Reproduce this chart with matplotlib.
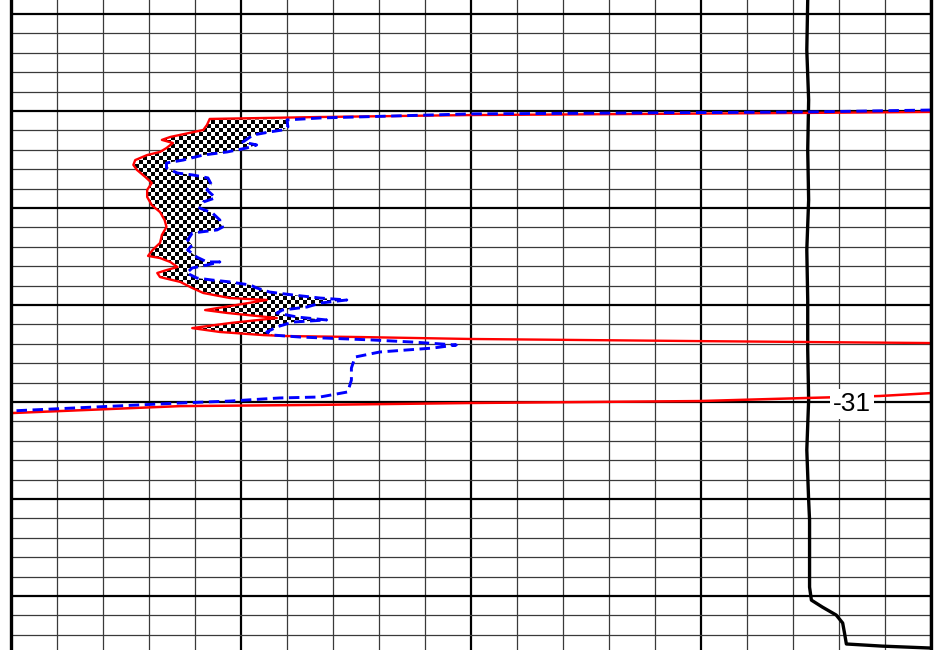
import numpy as np
import matplotlib
matplotlib.use("Agg")
import matplotlib.pyplot as plt
from matplotlib.ticker import MultipleLocator
from matplotlib.patches import Polygon

# horizontal position 0-100, depth grows downward (1 unit = one minor row)
x_min, x_max = 0, 100
y_top, y_bottom = -0.72, 32.78

# red curve: top run, left edge of the shaded body, base run
red_top_x = [100, 86.6, 49.9, 33.6]
red_top_y = [5.05, 5.10, 5.21, 5.31]
red_edge_x = [21.6, 21.3, 20.9, 19.4, 17.3, 16.4, 17.6, 16.9, 16.2, 14.8, 13.5, 13.3,
              13.7, 14.6, 15.3, 14.8, 14.8, 15.3, 16.2, 16.7, 16.9, 16.4, 16.2, 15.4,
              14.9, 16.2, 17.3, 18.1, 16.9, 15.9, 16.2, 18.4, 19.7, 20.9, 23.8, 27.8,
              24.5, 21.1, 23.5, 28.9, 23.8, 19.7, 22.7, 27.4, 30.0]
red_edge_y = [5.41, 5.72, 5.98, 6.13, 6.34, 6.49, 6.65, 6.91, 7.11, 7.27, 7.53, 7.78,
              8.04, 8.40, 8.71, 9.07, 9.43, 9.85, 10.21, 10.62, 10.98, 11.39, 11.80, 12.16,
              12.47, 12.58, 12.78, 13.04, 13.20, 13.35, 13.56, 13.81, 14.12, 14.38, 14.64, 14.74,
              15.00, 15.26, 15.41, 15.67, 15.93, 16.19, 16.39, 16.55, 16.60]
red_base_x = [37.9, 49.9, 74.8, 100]
red_base_y = [16.65, 16.75, 16.86, 16.96]

# lower red line
red_low_x = [0, 18.4, 32.8, 41.5, 49.9, 74.8, 86.6, 94.4, 100]
red_low_y = [20.57, 20.21, 20.15, 20.10, 20.05, 19.95, 19.79, 19.69, 19.54]

# blue dashed curve: top run, right edge of the shaded body, tail
blue_top_x = [100, 86.6, 49.9, 33.6]
blue_top_y = [4.95, 5.05, 5.15, 5.36]
blue_edge_x = [30.0, 30.1, 29.5, 28.1, 26.3, 25.2, 26.7, 25.6, 23.5, 20.9, 18.7, 16.9,
               16.9, 18.1, 19.8, 21.4, 21.8, 21.3, 21.9, 22.2, 20.9, 20.5, 21.9, 22.7,
               22.7, 23.0, 22.4, 19.7, 19.2, 19.7, 19.2, 20.2, 21.3, 22.7, 21.3, 19.7,
               19.1, 20.2, 21.8, 23.8, 26.0, 26.7, 28.1, 30.6, 33.6, 36.5, 33.6, 32.2,
               29.5, 28.9, 31.1, 34.3, 30.6, 28.9, 27.8, 28.5, 31.4]
blue_edge_y = [5.46, 5.82, 5.98, 6.08, 6.24, 6.60, 6.75, 6.91, 7.11, 7.27, 7.53, 7.68,
               7.94, 8.20, 8.30, 8.45, 8.81, 9.07, 9.33, 9.48, 9.69, 10.00, 10.26, 10.62,
               10.77, 10.98, 11.13, 11.29, 11.65, 11.91, 12.16, 12.53, 12.78, 12.78, 12.94, 13.09,
               13.35, 13.61, 13.71, 13.81, 13.97, 14.12, 14.33, 14.48, 14.64, 14.74, 14.90, 15.10,
               15.26, 15.41, 15.62, 15.77, 15.88, 16.13, 16.39, 16.55, 16.65]
blue_tail_x = [39.2, 43.7, 48.4, 45.8, 40.1, 37.4, 37.0, 37.0, 36.6, 33.6, 29.2, 23.8, 18.4, 0]
blue_tail_y = [16.80, 16.91, 17.06, 17.22, 17.42, 17.68, 18.25, 18.87, 19.48, 19.74, 19.79,
               19.95, 20.05, 20.46]

# black line on the right
black_x = [86.6, 86.5, 86.7, 86.6, 86.7, 86.5, 86.6, 86.6, 86.7, 86.5, 86.7, 86.8, 86.8,
           87.0, 88.2, 89.7, 90.4, 90.6, 90.8, 94.7, 100]
black_y = [-0.72, 1.86, 4.43, 7.01, 9.59, 12.16, 14.74, 17.32, 19.90, 22.47, 25.05, 26.08,
           29.54, 30.21, 30.57, 30.98, 31.39, 31.91, 32.47, 32.58, 32.68]

label_text = "-31"
label_x, label_y = 91.4, 20.10

fig = plt.figure(figsize=(9.39, 6.5), dpi=100)
ax = fig.add_axes([11 / 939, 0, 920 / 939, 1])
ax.set_xlim(x_min, x_max)
ax.set_ylim(y_bottom, y_top)

# grid
ax.xaxis.set_major_locator(MultipleLocator(25))
ax.xaxis.set_minor_locator(MultipleLocator(5))
ax.yaxis.set_major_locator(MultipleLocator(5))
ax.yaxis.set_minor_locator(MultipleLocator(1))
ax.grid(which="major", color="black", lw=1.6, zorder=1)
ax.grid(which="minor", color="#3a3a3a", lw=0.9, zorder=1)
ax.set_axisbelow(True)
ax.tick_params(which="both", length=0, labelbottom=False, labelleft=False)
for side in ["top", "bottom"]:
    ax.spines[side].set_visible(False)
for side in ["left", "right"]:
    ax.spines[side].set_linewidth(2.4)
    ax.spines[side].set_zorder(6)

# checkered body between the red and blue edges (4 px cells)
poly_x = red_edge_x + blue_edge_x[::-1]
poly_y = red_edge_y + blue_edge_y[::-1]
body = Polygon(np.column_stack([poly_x, poly_y]), closed=True, facecolor="none",
               edgecolor="none", transform=ax.transData)
ax.add_patch(body)
rows, cols = 163, 230
checker = np.indices((rows, cols)).sum(axis=0) % 2
cell_h = (y_bottom - y_top) / 650 * 4
img = ax.imshow(checker, cmap="gray", interpolation="nearest", aspect="auto",
                extent=[x_min, x_max, y_top + rows * cell_h, y_top], origin="upper",
                zorder=2)
img.set_clip_path(body)
ax.set_ylim(y_bottom, y_top)

red_x = red_top_x + red_edge_x + red_base_x
red_y = red_top_y + red_edge_y + red_base_y
blue_x = blue_top_x + blue_edge_x + blue_tail_x
blue_y = blue_top_y + blue_edge_y + blue_tail_y

ax.plot(black_x, black_y, color="black", lw=2.4, zorder=3)
ax.plot(red_x, red_y, color="red", lw=1.7, zorder=4)
ax.plot(red_low_x, red_low_y, color="red", lw=1.8, zorder=4)
ax.plot(blue_x, blue_y, color="blue", lw=2.1, ls=(0, (3.6, 1.9)), zorder=5)

ax.text(label_x, label_y, label_text, ha="center", va="center", fontsize=19,
        family="Liberation Sans", zorder=7,
        bbox=dict(facecolor="white", edgecolor="none", pad=2))

fig.savefig("out.png", dpi=100)
